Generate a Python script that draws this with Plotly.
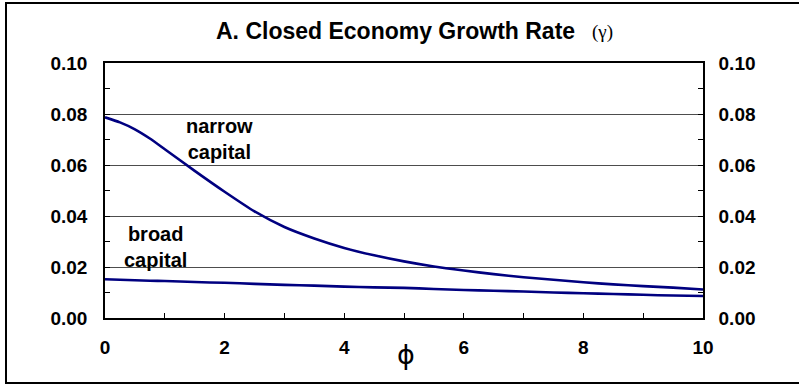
import plotly.graph_objects as go

# Growth rate of the closed economy as a function of phi
phi = [0, 0.25, 0.5, 0.75, 1.0, 1.5, 2.0, 2.5, 3.0, 3.5, 4.0, 4.5, 5.0,
       5.5, 6.0, 6.5, 7.0, 7.5, 8.0, 8.5, 9.0, 9.5, 10.0]
narrow_capital = [0.0787, 0.0767, 0.0740, 0.0704, 0.0662, 0.0577, 0.0495,
                  0.0418, 0.0357, 0.0312, 0.0275, 0.0246, 0.0222, 0.0202,
                  0.0186, 0.0172, 0.0160, 0.0150, 0.0140, 0.0132, 0.0125,
                  0.0119, 0.0112]
broad_capital = [0.0152, 0.0150, 0.0148, 0.0146, 0.0145, 0.0141, 0.0138,
                 0.0134, 0.0130, 0.0127, 0.0123, 0.0120, 0.0118, 0.0114,
                 0.0110, 0.0107, 0.0104, 0.0100, 0.0097, 0.0094, 0.0091,
                 0.0088, 0.0086]

x_ticks = [0, 2, 4, 6, 8, 10]
y_ticks = [0.00, 0.02, 0.04, 0.06, 0.08, 0.10]
y_labels = ["%.2f" % v for v in y_ticks]

LINE = "#000080"
FONT = "Liberation Sans"

fig = go.Figure()
for ys in (narrow_capital, broad_capital):
    fig.add_trace(go.Scatter(x=phi, y=ys, mode="lines",
                             line=dict(color=LINE, width=2.6, shape="spline",
                                       smoothing=0.6),
                             showlegend=False, hoverinfo="skip"))
# invisible trace to carry the right-hand axis
fig.add_trace(go.Scatter(x=[0], y=[0], yaxis="y2", mode="markers",
                         marker=dict(opacity=0), showlegend=False,
                         hoverinfo="skip"))

tickfont = dict(family=FONT, size=19, color="black", weight="bold")
yaxis_common = dict(range=[0, 0.10], tickvals=y_ticks, ticktext=y_labels,
                    ticks="inside", ticklen=5, tickcolor="black",
                    showline=True, linecolor="black", linewidth=1.5,
                    tickfont=tickfont, zeroline=False,
                    minor=dict(dtick=0.01, ticks="inside", ticklen=5,
                               tickcolor="black", showgrid=False))

fig.update_layout(
    width=799, height=385,
    margin=dict(l=105, r=96, t=63, b=67),
    paper_bgcolor="white", plot_bgcolor="white",
    xaxis=dict(range=[0, 10], tickvals=x_ticks, ticks="inside", ticklen=5,
               tickcolor="black", showline=True, linecolor="black",
               linewidth=1.5, mirror=True, showgrid=False, zeroline=False,
               tickfont=tickfont, ticklabelstandoff=11,
               minor=dict(dtick=1, ticks="inside", ticklen=5,
                          tickcolor="black")),
    yaxis=dict(**yaxis_common, showgrid=True, gridcolor="#4d4d4d",
               gridwidth=1, ticklabelstandoff=12),
    yaxis2=dict(**yaxis_common, overlaying="y", side="right",
                showgrid=False, ticklabelstandoff=10),
)

def px(xp):
    return (xp - 105) / 598

def py(yp):
    return (318 - yp) / 255

# outer frame around the chart
fig.add_shape(type="rect", xref="paper", yref="paper",
              x0=px(6), x1=px(803), y0=py(383), y1=py(3),
              line=dict(color="black", width=2))

center = dict(showarrow=False, xanchor="center", yanchor="middle")
fig.add_annotation(xref="paper", yref="paper", x=px(395), y=py(31),
                   text="<b>A. Closed Economy Growth Rate</b>",
                   font=dict(family=FONT, size=23, color="black"), **center)
fig.add_annotation(xref="paper", yref="paper", x=px(602), y=py(32),
                   text="(γ)",
                   font=dict(family="Liberation Serif", size=19,
                             color="black"), **center)
fig.add_annotation(xref="paper", yref="paper", x=px(406), y=py(354),
                   text="ϕ",
                   font=dict(family="DejaVu Sans", size=27, color="black"),
                   **center)

fig.add_annotation(x=1.91, y=0.0701, text="<b>narrow<br>capital</b>",
                   align="center",
                   font=dict(family=FONT, size=20, color="black"), **center)
fig.add_annotation(x=0.84, y=0.0277, text="<b>broad<br>capital</b>",
                   align="center",
                   font=dict(family=FONT, size=20, color="black"), **center)

fig.write_html("out.html")
